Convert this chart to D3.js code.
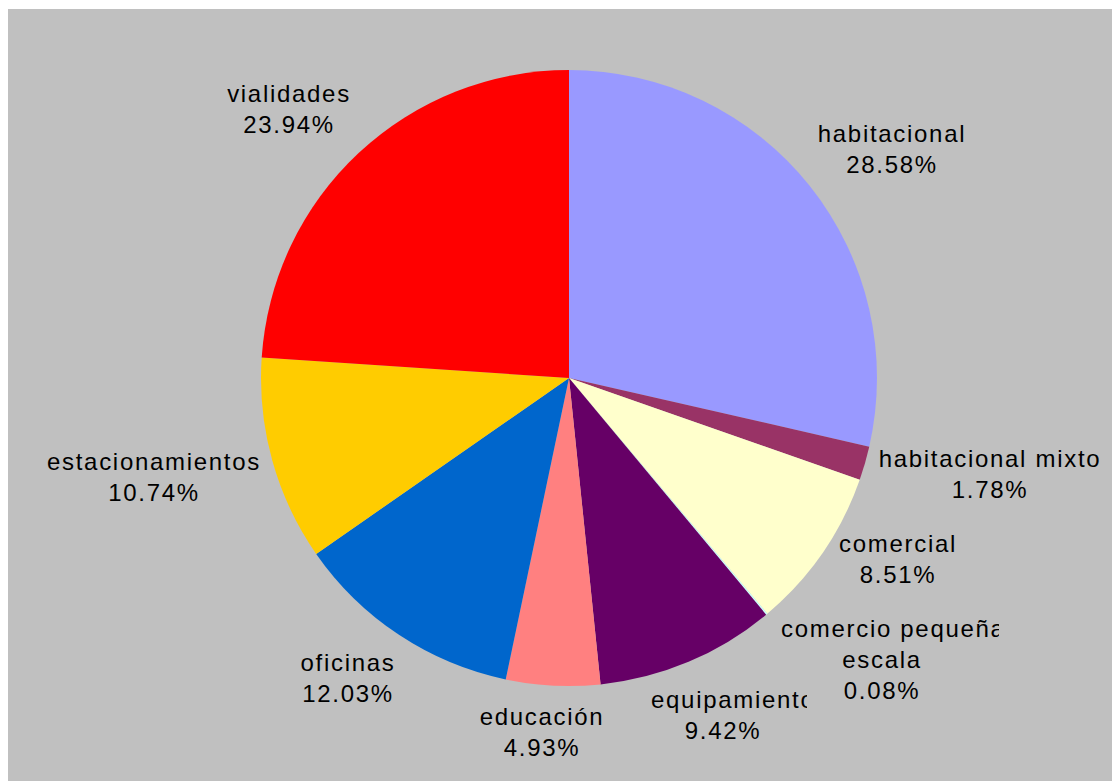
<!DOCTYPE html>
<html>
<head>
<meta charset="utf-8">
<script src="https://cdn.jsdelivr.net/npm/d3@7"></script>
<style>
  html, body { margin: 0; padding: 0; background: #ffffff; }
  svg { display: block; }
</style>
</head>
<body>
<figure id="pie" style="margin:0"></figure>
<script>
// slice names, one line per entry in the label
const categories = [
  ["habitacional"],
  ["habitacional mixto"],
  ["comercial"],
  ["comercio pequeña", "escala"],
  ["equipamiento"],
  ["educación"],
  ["oficinas"],
  ["estacionamientos"],
  ["vialidades"]
];
const shares = [28.58, 1.78, 8.51, 0.08, 9.42, 4.93, 12.03, 10.74, 23.94];
const percentLabels = ["28.58%", "1.78%", "8.51%", "0.08%", "9.42%", "4.93%", "12.03%", "10.74%", "23.94%"];

const colors = ["#9999ff", "#993366", "#ffffcc", "#ccffff", "#660066", "#ff8080", "#0066cc", "#ffcc00", "#ff0000"];

// label layout: center x, first baseline y, right clip edge, start x of the overflowing line
const labelLayout = [
  [892, 142, null, null],
  [990, 467, null, null],
  [898, 552, null, null],
  [882, 637, 999, 781],
  [723, 708, 807, 651],
  [542, 725, null, null],
  [348, 671, null, null],
  [154, 470, null, null],
  [289, 102, null, null]
];

const width = 1112;
const height = 781;
const cx = 569, cy = 378;
const radius = 308;
const lineH = 31;

const svg = d3.select("figure#pie")
  .append("svg")
  .attr("width", width)
  .attr("height", height);

// grey plot area
svg.append("rect")
  .attr("x", 8)
  .attr("y", 9)
  .attr("width", width - 8)
  .attr("height", height - 9)
  .attr("fill", "#c0c0c0");

const g = svg.append("g")
  .attr("transform", "translate(" + cx + "," + cy + ")");

const data = shares.map((v, i) => ({ value: v, idx: i }));

const pie = d3.pie()
  .value(d => d.value)
  .sort(null);

const arc = d3.arc()
  .innerRadius(0)
  .outerRadius(radius);

g.selectAll("path")
  .data(pie(data))
  .enter()
  .append("path")
  .attr("d", arc)
  .attr("fill", d => colors[d.data.idx]);

// labels
const defs = svg.append("defs");

labelLayout.forEach((lay, i) => {
  const lines = categories[i].concat([percentLabels[i]]);
  const t = svg.append("text")
    .style("font-family", "'Liberation Sans', Arial, sans-serif")
    .style("font-size", "24px")
    .style("letter-spacing", "1.7px")
    .attr("fill", "#000000");

  if (lay[2] !== null) {
    defs.append("clipPath")
      .attr("id", "clip" + i)
      .append("rect")
      .attr("x", 0)
      .attr("y", 0)
      .attr("width", lay[2])
      .attr("height", height);
    t.attr("clip-path", "url(#clip" + i + ")");
  }

  lines.forEach((s, k) => {
    // the first (too long) line of a clipped label starts at the box edge
    const overflow = k === 0 && lay[3] !== null;
    t.append("tspan")
      .attr("x", overflow ? lay[3] : lay[0])
      .attr("y", lay[1] + k * lineH)
      .attr("text-anchor", overflow ? "start" : "middle")
      .text(s);
  });
});
</script>
</body>
</html>
